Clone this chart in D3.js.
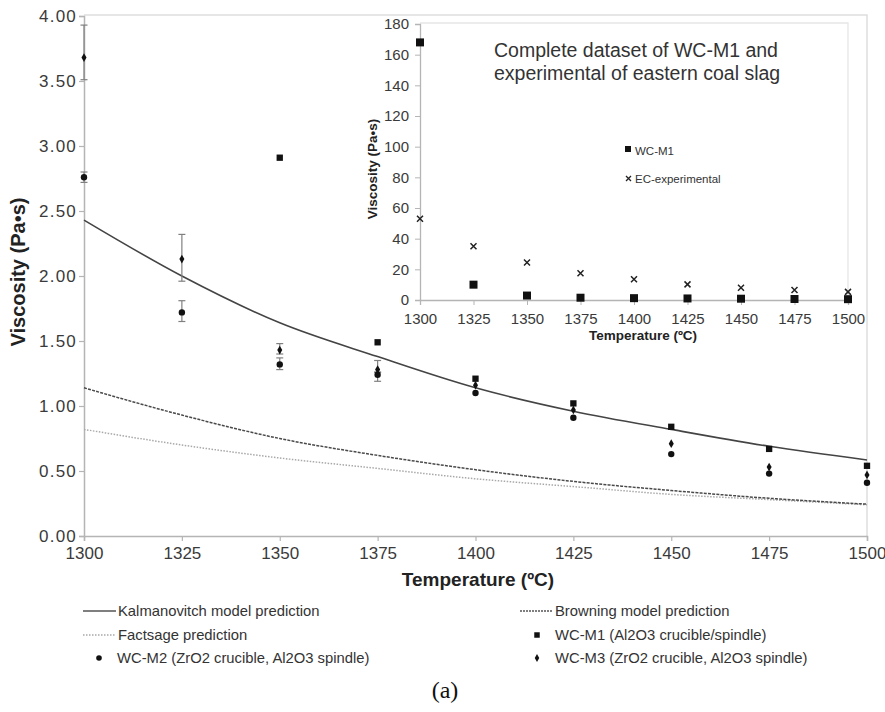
<!DOCTYPE html>
<html>
<head>
<meta charset="utf-8">
<script src="https://cdn.jsdelivr.net/npm/d3@7"></script>
<style>
  body { margin: 0; background: #fff; }
  svg { display: block; font-family: "Liberation Sans", Arial, sans-serif; }
</style>
</head>
<body>
<svg id="chart" width="885" height="712"></svg>
<script>
// ── Data ────────────────────────────────────────────────────────────────
const temps      = [1300, 1325, 1350, 1375, 1400, 1425, 1450, 1475, 1500];
const xTicks     = [1300, 1325, 1350, 1375, 1400, 1425, 1450, 1475, 1500];
const yTicks     = [0, 0.5, 1, 1.5, 2, 2.5, 3, 3.5, 4];
const insetYTicks = [0, 20, 40, 60, 80, 100, 120, 140, 160, 180];

const kalmanovitch = [2.43, 2.00, 1.64, 1.38, 1.14, 0.96, 0.82, 0.69, 0.585];
const browning     = [1.14, 0.93, 0.75, 0.62, 0.51, 0.42, 0.35, 0.29, 0.245];
const factsage     = [0.82, 0.70, 0.60, 0.52, 0.44, 0.38, 0.32, 0.28, 0.24];

const m1Temps = [1350, 1375, 1400, 1425, 1450, 1475, 1500];
const m1Vals  = [2.91, 1.49, 1.21, 1.02, 0.84, 0.67, 0.54];

const m2Vals  = [2.76, 1.72, 1.32, 1.24, 1.10, 0.91, 0.63, 0.48, 0.41];
const m2Lo    = [2.72, 1.65, 1.28, 1.19, null, null, null, null, null];
const m2Hi    = [2.80, 1.81, 1.37, 1.26, null, null, null, null, null];

const m3Vals  = [3.68, 2.13, 1.43, 1.28, 1.16, 0.97, 0.71, 0.53, 0.47];
const m3Lo    = [3.51, 1.96, 1.40, 1.26, null, null, null, null, null];
const m3Hi    = [3.93, 2.32, 1.48, 1.35, null, null, null, null, null];

const insetM1 = [168, 10, 2.9, 1.49, 1.2, 1.01, 0.84, 0.67, 0.54];
const insetEC = [53, 35, 24.5, 17.5, 13.5, 10.2, 8, 6.5, 5.3];

const legendRows = [
  [{ kind: 'solid',  label: 'Kalmanovitch model prediction' },
   { kind: 'dashed', label: 'Browning model prediction' }],
  [{ kind: 'dotted', label: 'Factsage prediction' },
   { kind: 'square', label: 'WC-M1 (Al2O3 crucible/spindle)' }],
  [{ kind: 'circle', label: 'WC-M2  (ZrO2 crucible, Al2O3 spindle)' },
   { kind: 'diamond', label: 'WC-M3 (ZrO2 crucible, Al2O3 spindle)' }],
];

// ── Setup ───────────────────────────────────────────────────────────────
const svg = d3.select('#chart');
const AXIS = '#b5b5b5';
const FRAME = '#dedede';
const TXT = '#3a3a3a';

const x = d3.scaleLinear().domain([1300, 1500]).range([84, 867]);
const y = d3.scaleLinear().domain([0, 4]).range([536, 16]);

// plot frame (top / right)
svg.append('path')
  .attr('d', `M${x(1300)},${y(4) - 1}H${x(1500)}V${y(0)}`)
  .attr('fill', 'none').attr('stroke', FRAME).attr('stroke-width', 1.5);

// axes
const gx = svg.append('g').attr('transform', `translate(0,${y(0)})`)
  .call(d3.axisBottom(x).tickValues(xTicks).tickFormat(d3.format('d')).tickSizeOuter(0).tickSize(5).tickPadding(6));
const gy = svg.append('g').attr('transform', `translate(${x(1300)},0)`)
  .call(d3.axisLeft(y).tickValues(yTicks).tickFormat(d3.format('.2f')).tickSizeOuter(0).tickSize(5).tickPadding(3));
[gx, gy].forEach(g => {
  g.select('.domain').attr('stroke', AXIS).attr('stroke-width', 1.5);
  g.selectAll('.tick line').attr('stroke', AXIS).attr('stroke-width', 1.2);
  g.selectAll('.tick text').attr('fill', TXT).attr('font-size', 17)
    .attr('font-family', '"Liberation Sans", Arial, sans-serif');
});
gy.selectAll('.tick text').attr('letter-spacing', 1.2).attr('dx', 1);

svg.append('text').attr('x', 478).attr('y', 586).attr('text-anchor', 'middle')
  .attr('font-size', 19).attr('font-weight', 'bold').attr('fill', '#222')
  .text('Temperature (ºC)');
svg.append('text').attr('transform', 'translate(25,272) rotate(-90)').attr('text-anchor', 'middle')
  .attr('font-size', 20).attr('font-weight', 'bold').attr('fill', '#222')
  .text('Viscosity (Pa•s)');

// model curves
const line = vals => d3.line()
  .x((d, i) => x(temps[i])).y(d => y(d)).curve(d3.curveMonotoneX)(vals);

svg.append('path').attr('d', line(factsage)).attr('fill', 'none')
  .attr('stroke', '#a8a8a8').attr('stroke-width', 1.5).attr('stroke-dasharray', '1.5,1.5');
svg.append('path').attr('d', line(browning)).attr('fill', 'none')
  .attr('stroke', '#4a4a4a').attr('stroke-width', 1.5).attr('stroke-dasharray', '3,1.2');
svg.append('path').attr('d', line(kalmanovitch)).attr('fill', 'none')
  .attr('stroke', '#444').attr('stroke-width', 1.6);

// error bars
function errorBars(lo, hi) {
  const rows = temps.map((t, i) => ({ t, lo: lo[i], hi: hi[i] })).filter(d => d.lo != null);
  const g = svg.append('g').attr('stroke', '#808080').attr('stroke-width', 1.2);
  rows.forEach(d => {
    g.append('line').attr('x1', x(d.t)).attr('x2', x(d.t)).attr('y1', y(d.lo)).attr('y2', y(d.hi));
    [d.lo, d.hi].forEach(v => g.append('line')
      .attr('x1', x(d.t) - 3.5).attr('x2', x(d.t) + 3.5).attr('y1', y(v)).attr('y2', y(v)));
  });
}
errorBars(m3Lo, m3Hi);
errorBars(m2Lo, m2Hi);

// markers
const sym = (type, size) => d3.symbol().type(type).size(size)();
svg.append('g').selectAll('path').data(m1Vals).join('path')
  .attr('transform', (d, i) => `translate(${x(m1Temps[i])},${y(d)})`)
  .attr('d', sym(d3.symbolSquare, 40)).attr('fill', '#111');
svg.append('g').selectAll('circle').data(m2Vals).join('circle')
  .attr('cx', (d, i) => x(temps[i])).attr('cy', d => y(d)).attr('r', 3.2).attr('fill', '#111');
svg.append('g').selectAll('path').data(m3Vals).join('path')
  .attr('transform', (d, i) => `translate(${x(temps[i])},${y(d)})`)
  .attr('d', sym(d3.symbolDiamond, 22)).attr('fill', '#111');

// ── Inset ───────────────────────────────────────────────────────────────
const ix = d3.scaleLinear().domain([1300, 1500]).range([420, 848]);
const iy = d3.scaleLinear().domain([0, 180]).range([300, 24]);

svg.append('path')
  .attr('d', `M${ix(1300)},${iy(180) - 1}H${ix(1500)}V${iy(0)}`)
  .attr('fill', 'none').attr('stroke', '#e6e6e6').attr('stroke-width', 1.3);

const igx = svg.append('g').attr('transform', `translate(0,${iy(0)})`)
  .call(d3.axisBottom(ix).tickValues(xTicks).tickFormat(d3.format('d')).tickSizeOuter(0).tickSize(5).tickPadding(8));
const igy = svg.append('g').attr('transform', `translate(${ix(1300)},0)`)
  .call(d3.axisLeft(iy).tickValues(insetYTicks).tickSizeOuter(0).tickSize(5).tickPadding(6));
[igx, igy].forEach(g => {
  g.select('.domain').attr('stroke', AXIS).attr('stroke-width', 1.3);
  g.selectAll('.tick line').attr('stroke', AXIS);
  g.selectAll('.tick text').attr('fill', TXT).attr('font-size', 15)
    .attr('font-family', '"Liberation Sans", Arial, sans-serif');
});

svg.append('text').attr('x', 643).attr('y', 340).attr('text-anchor', 'middle')
  .attr('font-size', 13.5).attr('font-weight', 'bold').attr('fill', '#222')
  .text('Temperature (ºC)');
svg.append('text').attr('transform', 'translate(377,169) rotate(-90)').attr('text-anchor', 'middle')
  .attr('font-size', 13.5).attr('font-weight', 'bold').attr('fill', '#222')
  .text('Viscosity (Pa•s)');

const title = svg.append('text').attr('x', 494).attr('font-size', 19.5).attr('fill', '#333');
title.append('tspan').attr('x', 494).attr('y', 57).text('Complete dataset of WC-M1 and');
title.append('tspan').attr('x', 494).attr('y', 80).text('experimental of eastern coal slag');

svg.append('g').selectAll('path').data(insetM1).join('path')
  .attr('transform', (d, i) => `translate(${ix(temps[i])},${iy(d)})`)
  .attr('d', sym(d3.symbolSquare, 64)).attr('fill', '#111');
// x-markers drawn as two strokes
svg.append('g').attr('stroke', '#222').attr('stroke-width', 1.5)
  .selectAll('path').data(insetEC).join('path')
  .attr('d', (d, i) => {
    const cx = ix(temps[i]), cy = iy(d), r = 3;
    return `M${cx - r},${cy - r}L${cx + r},${cy + r}M${cx - r},${cy + r}L${cx + r},${cy - r}`;
  });

// inset legend
svg.append('path').attr('transform', 'translate(628,149)')
  .attr('d', sym(d3.symbolSquare, 36)).attr('fill', '#111');
svg.append('text').attr('x', 635).attr('y', 155).attr('font-size', 11.5).attr('fill', '#333').text('WC-M1');
svg.append('path').attr('stroke', '#222').attr('stroke-width', 1.3)
  .attr('d', 'M626,176L631,181M626,181L631,176');
svg.append('text').attr('x', 635).attr('y', 183).attr('font-size', 11.5).attr('fill', '#333').text('EC-experimental');

// ── Legend ──────────────────────────────────────────────────────────────
const colX = [83, 520];
const rowY = [611, 635, 658];
legendRows.forEach((row, r) => row.forEach((item, c) => {
  const x0 = colX[c], cy = rowY[r];
  const g = svg.append('g');
  if (item.kind === 'solid' || item.kind === 'dashed' || item.kind === 'dotted') {
    g.append('line').attr('x1', x0).attr('x2', x0 + 33).attr('y1', cy).attr('y2', cy)
      .attr('stroke', item.kind === 'dotted' ? '#a8a8a8' : '#555')
      .attr('stroke-width', 1.5)
      .attr('stroke-dasharray', item.kind === 'solid' ? null : item.kind === 'dashed' ? '2,1' : '1.5,1.5');
  } else if (item.kind === 'square') {
    g.append('path').attr('transform', `translate(${x0 + 17},${cy})`)
      .attr('d', sym(d3.symbolSquare, 30)).attr('fill', '#111');
  } else if (item.kind === 'circle') {
    g.append('circle').attr('cx', x0 + 16).attr('cy', cy).attr('r', 2.8).attr('fill', '#111');
  } else {
    g.append('path').attr('transform', `translate(${x0 + 17},${cy})`)
      .attr('d', sym(d3.symbolDiamond, 18)).attr('fill', '#111');
  }
  g.append('text').attr('x', x0 + (item.kind === 'circle' ? 34 : 35)).attr('y', cy + 5)
    .attr('font-size', 14.8).attr('fill', '#333').text(item.label);
}));

svg.append('text').attr('x', 445).attr('y', 698).attr('text-anchor', 'middle')
  .attr('font-family', '"Liberation Serif", "Times New Roman", serif')
  .attr('font-size', 24).attr('fill', '#111').text('(a)');
</script>
</body>
</html>
